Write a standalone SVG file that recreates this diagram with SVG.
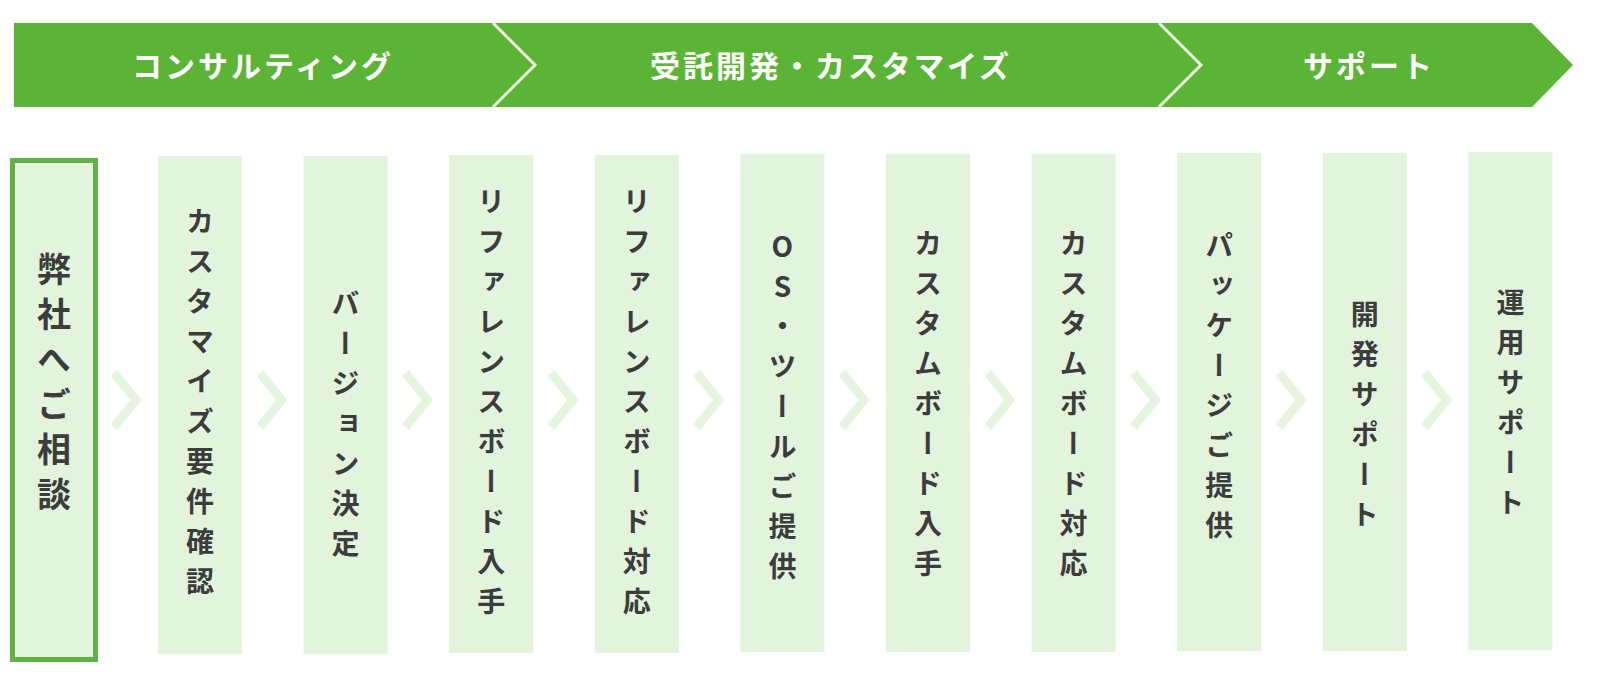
<svg xmlns="http://www.w3.org/2000/svg" width="1600" height="680" viewBox="0 0 1600 680">
<style>
.band{fill:#5bb436}
.div{fill:none;stroke:#eef6e2;stroke-width:3}
.bt{font-family:"Noto Sans CJK JP","Noto Sans",sans-serif;font-weight:700;font-size:30px;fill:#ffffff;letter-spacing:3px;text-anchor:middle;dominant-baseline:central}
.box{fill:#e2f4dc}
.box1{fill:#e2f4dc;stroke:#62b046;stroke-width:5}
.vt{font-family:"Noto Sans CJK JP","Noto Sans",sans-serif;font-weight:700;font-size:28px;fill:#3c3c3c;writing-mode:vertical-rl;text-orientation:upright;letter-spacing:12px;text-anchor:middle}
.vt1{font-size:34px;letter-spacing:11px}
.chev{fill:none;stroke:#e5f5df;stroke-width:9;stroke-linecap:butt;stroke-linejoin:miter}
</style>
<g id="banner">
<polygon class="band" points="14,23 1532,23 1573,65 1532,107 14,107"/>
<polyline class="div" points="493,23 535,65 493,107"/>
<polyline class="div" points="1159,23 1201,65 1159,107"/>
<text class="bt" x="263" y="64">コンサルティング</text>
<text class="bt" x="831" y="64">受託開発・カスタマイズ</text>
<text class="bt" x="1369" y="64">サポート</text>
</g>
<g id="connectors">
<polyline class="chev" points="114,373 136,400 114,427"/>
<polyline class="chev" points="259.8,373 281.8,400 259.8,427"/>
<polyline class="chev" points="405.4,373 427.4,400 405.4,427"/>
<polyline class="chev" points="551,373 573,400 551,427"/>
<polyline class="chev" points="696.6,373 718.6,400 696.6,427"/>
<polyline class="chev" points="842.2,373 864.2,400 842.2,427"/>
<polyline class="chev" points="987.8,373 1009.8,400 987.8,427"/>
<polyline class="chev" points="1133.4,373 1155.4,400 1133.4,427"/>
<polyline class="chev" points="1279,373 1301,400 1279,427"/>
<polyline class="chev" points="1424.6,373 1446.6,400 1424.6,427"/>
</g>
<g id="n1"><rect class="box1" x="12.5" y="160.5" width="83" height="499"/><text class="vt vt1" x="54" y="387.5">弊社へご相談</text></g>
<g id="n2"><rect class="box" x="158" y="156" width="84" height="498"/><text class="vt" x="200" y="407">カスタマイズ要件確認</text></g>
<g id="n3"><rect class="box" x="303.6" y="156" width="84" height="498"/><text class="vt" x="345.6" y="429">バージョン決定</text></g>
<g id="n4"><rect class="box" x="449.2" y="155" width="84" height="498"/><text class="vt" x="491.2" y="407">リファレンスボード入手</text></g>
<g id="n5"><rect class="box" x="594.8" y="155" width="84" height="498"/><text class="vt" x="636.8" y="407">リファレンスボード対応</text></g>
<g id="n6"><rect class="box" x="740.4" y="154" width="84" height="498"/><text class="vt" x="782.4" y="412">OS・ツールご提供</text></g>
<g id="n7"><rect class="box" x="886" y="154" width="84" height="498"/><text class="vt" x="928" y="409">カスタムボード入手</text></g>
<g id="n8"><rect class="box" x="1031.6" y="154" width="84" height="498"/><text class="vt" x="1073.6" y="409">カスタムボード対応</text></g>
<g id="n9"><rect class="box" x="1177.2" y="153" width="84" height="498"/><text class="vt" x="1219.2" y="391">パッケージご提供</text></g>
<g id="n10"><rect class="box" x="1322.8" y="153" width="84" height="498"/><text class="vt" x="1364.8" y="420">開発サポート</text></g>
<g id="n11"><rect class="box" x="1468.4" y="152" width="84" height="498"/><text class="vt" x="1510.4" y="408">運用サポート</text></g>
</svg>
